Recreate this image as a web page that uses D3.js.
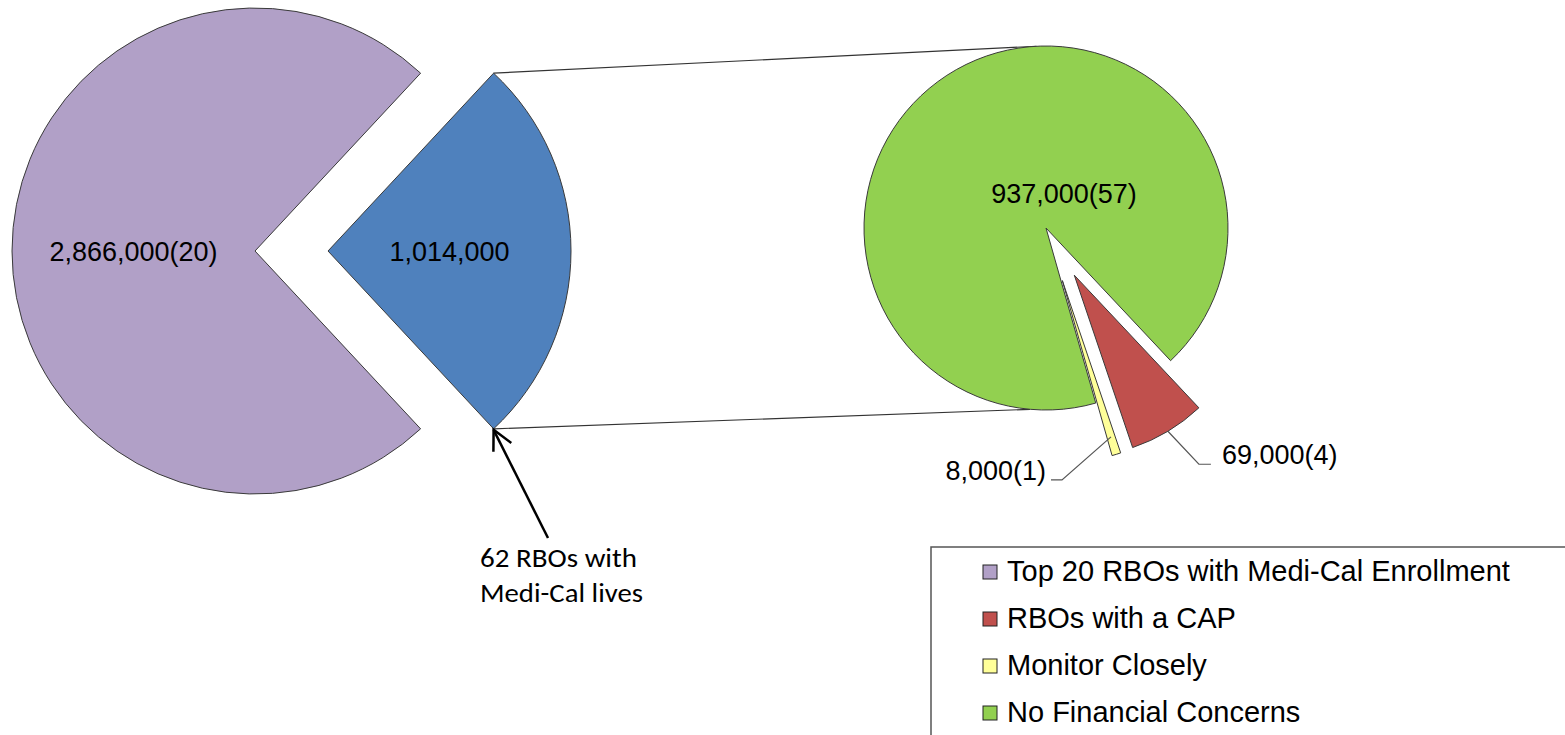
<!DOCTYPE html>
<html>
<head>
<meta charset="utf-8">
<script src="https://cdn.jsdelivr.net/npm/d3@7"></script>
<style>
  body { margin: 0; background: #fff; }
  svg { display: block; }
</style>
</head>
<body>
<div id="chart"></div>
<script>
(function() {
  'use strict';

  // first pie: the whole enrollment
  var mainNames = ["Top 20 RBOs with Medi-Cal Enrollment", "62 RBOs with Medi-Cal lives"];
  var mainValues = [2866000, 1014000];
  var mainCounts = [20, 62];
  var mainColors = ["#B1A0C7", "#4F81BD"];

  // second pie: the 1,014,000 split by financial status
  var subNames = ["RBOs with a CAP", "Monitor Closely", "No Financial Concerns"];
  var subValues = [69000, 8000, 937000];
  var subCounts = [4, 1, 57];
  var subColors = ["#C0504D", "#FFFF99", "#92D050"];

  var legendNames = ["Top 20 RBOs with Medi-Cal Enrollment", "RBOs with a CAP", "Monitor Closely", "No Financial Concerns"];
  var legendColors = ["#B1A0C7", "#C0504D", "#FFFF99", "#92D050"];

  var calloutLines = ["62 RBOs with", "Medi-Cal lives"];

  var width = 1565;
  var height = 735;
  var deg = Math.PI / 180;
  var fmt = d3.format(",");

  var left = { cx: 255, cy: 251, r: 243, explode: 73 };
  var right = { cx: 1046, cy: 228, r: 182, explode: 55, start: 136.8 * deg };

  var svg = d3.select("#chart")
    .append("svg:svg")
    .attr("width", width)
    .attr("height", height);

  function offset(d, dist) {
    var mid = (d.startAngle + d.endAngle) / 2;
    return [dist * Math.sin(mid), -dist * Math.cos(mid)];
  }

  function pointAt(cx, cy, r, a) {
    return [cx + r * Math.sin(a), cy - r * Math.cos(a)];
  }

  // ---- left pie
  var total = d3.sum(mainValues);
  var blueAngle = 2 * Math.PI * mainValues[1] / total;
  var mainStart = Math.PI / 2 + blueAngle / 2;

  var mainPie = d3.pie().sort(null)
    .startAngle(mainStart)
    .endAngle(mainStart + 2 * Math.PI);
  var mainArcs = mainPie(mainValues);
  var mainArc = d3.arc().innerRadius(0).outerRadius(left.r);

  var gLeft = svg.append("g")
    .attr("transform", "translate(" + left.cx + "," + left.cy + ")");

  mainArcs.forEach(function(d, i) {
    var off = i === 1 ? offset(d, left.explode) : [0, 0];
    var g = gLeft.append("g").attr("transform", "translate(" + off[0] + "," + off[1] + ")");
    g.append("path")
      .attr("d", mainArc(d))
      .attr("fill", mainColors[i])
      .attr("stroke", "#3a3a3a")
      .attr("stroke-width", 1);
    var c = mainArc.centroid(d);
    g.append("text")
      .attr("x", c[0])
      .attr("y", c[1] + 10)
      .attr("text-anchor", "middle")
      .attr("font-family", "Liberation Sans, Arial, sans-serif")
      .attr("font-size", 27)
      .attr("fill", "#000")
      .text(i === 0 ? fmt(mainValues[i]) + "(" + mainCounts[i] + ")" : fmt(mainValues[i]));
  });

  // blue slice tips (absolute)
  var blue = mainArcs[1];
  var bOff = offset(blue, left.explode);
  var bcx = left.cx + bOff[0], bcy = left.cy + bOff[1];
  var tipTop = pointAt(bcx, bcy, left.r, blue.startAngle);
  var tipBot = pointAt(bcx, bcy, left.r, blue.endAngle);

  // ---- connector lines
  var joinTop = pointAt(right.cx, right.cy, right.r, -3 * deg);
  var joinBot = pointAt(right.cx, right.cy, right.r, 185 * deg);
  [[tipTop, joinTop], [tipBot, joinBot]].forEach(function(p) {
    svg.append("line")
      .attr("x1", p[0][0]).attr("y1", p[0][1])
      .attr("x2", p[1][0]).attr("y2", p[1][1])
      .attr("stroke", "#333")
      .attr("stroke-width", 1.2);
  });

  // ---- right pie
  var subPie = d3.pie().sort(null)
    .startAngle(right.start)
    .endAngle(right.start + 2 * Math.PI);
  var subArcs = subPie(subValues);
  var subArc = d3.arc().innerRadius(0).outerRadius(right.r);

  var gRight = svg.append("g")
    .attr("transform", "translate(" + right.cx + "," + right.cy + ")");

  subArcs.forEach(function(d, i) {
    var off = i < 2 ? offset(d, right.explode) : [0, 0];
    gRight.append("path")
      .attr("transform", "translate(" + off[0] + "," + off[1] + ")")
      .attr("d", subArc(d))
      .attr("fill", subColors[i])
      .attr("stroke", "#3a3a3a")
      .attr("stroke-width", 1);
  });

  var labelFont = "Liberation Sans, Arial, sans-serif";

  // big green label
  gRight.append("text")
    .attr("x", 18)
    .attr("y", -25)
    .attr("text-anchor", "middle")
    .attr("font-family", labelFont)
    .attr("font-size", 27)
    .text(fmt(subValues[2]) + "(" + subCounts[2] + ")");

  // leader labels for small slices
  var leaders = [
    { i: 0, rf: 1.0, bend: [31, 33], end: 12, anchor: "start", gap: 11, dy: 0 },
    { i: 1, rf: 0.9, bend: [-49, 43], end: -11, anchor: "end", gap: -5, dy: 0 }
  ];
  leaders.forEach(function(l) {
    var d = subArcs[l.i];
    var mid = (d.startAngle + d.endAngle) / 2;
    var off = offset(d, right.explode);
    var s = [off[0] + l.rf * right.r * Math.sin(mid), off[1] - l.rf * right.r * Math.cos(mid)];
    var b = [s[0] + l.bend[0], s[1] + l.bend[1]];
    var e = [b[0] + l.end, b[1]];
    gRight.append("path")
      .attr("d", d3.line()([s, b, e]))
      .attr("fill", "none")
      .attr("stroke", "#555")
      .attr("stroke-width", 1.2);
    gRight.append("text")
      .attr("x", e[0] + l.gap)
      .attr("y", e[1] + l.dy)
      .attr("text-anchor", l.anchor)
      .attr("font-family", labelFont)
      .attr("font-size", 27)
      .text(fmt(subValues[l.i]) + "(" + subCounts[l.i] + ")");
  });

  // ---- arrow + callout
  var tail = [548, 538];
  svg.append("line")
    .attr("x1", tail[0]).attr("y1", tail[1])
    .attr("x2", tipBot[0]).attr("y2", tipBot[1] + 1)
    .attr("stroke", "#000")
    .attr("stroke-width", 2.5);
  var ang = Math.atan2(tail[1] - tipBot[1], tail[0] - tipBot[0]);
  var head = [ang + 27 * deg, ang - 27 * deg].map(function(a) {
    return [tipBot[0] + 22 * Math.cos(a), tipBot[1] + 1 + 22 * Math.sin(a)];
  });
  svg.append("path")
    .attr("d", d3.line()([head[0], [tipBot[0], tipBot[1] + 1], head[1]]))
    .attr("fill", "none")
    .attr("stroke", "#000")
    .attr("stroke-width", 2.5);

  var callout = svg.append("text")
    .attr("font-family", "Carlito, Lato, sans-serif")
    .attr("font-size", 27)
    .attr("fill", "#000");
  var calloutWidths = [157, 163];
  calloutLines.forEach(function(t, i) {
    callout.append("tspan")
      .attr("x", 480)
      .attr("y", 567 + i * 35)
      .attr("textLength", calloutWidths[i])
      .attr("lengthAdjust", "spacingAndGlyphs")
      .text(t);
  });

  // ---- legend
  var legend = svg.append("g");
  legend.append("rect")
    .attr("x", 931).attr("y", 547)
    .attr("width", 700).attr("height", 300)
    .attr("fill", "#fff")
    .attr("stroke", "#555")
    .attr("stroke-width", 1.5);

  var rowY = d3.scalePoint()
    .domain(legendNames)
    .range([581, 722]);

  legendNames.forEach(function(name, i) {
    var y = rowY(name);
    legend.append("rect")
      .attr("x", 983).attr("y", y - 16)
      .attr("width", 14).attr("height", 14)
      .attr("fill", legendColors[i])
      .attr("stroke", "#222")
      .attr("stroke-width", 1);
    legend.append("text")
      .attr("x", 1007).attr("y", y)
      .attr("font-family", labelFont)
      .attr("font-size", 29)
      .text(name);
  });
})();
</script>
</body>
</html>
